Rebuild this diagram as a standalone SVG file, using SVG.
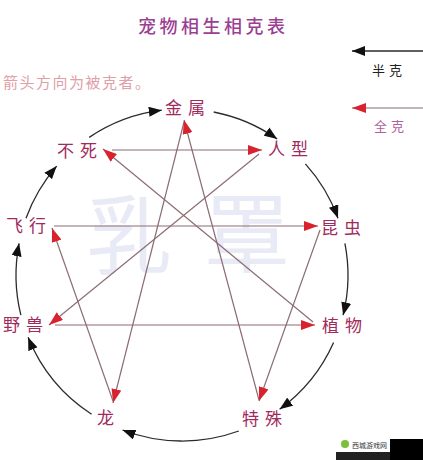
<svg xmlns="http://www.w3.org/2000/svg" width="423" height="460" viewBox="0 0 423 460">
<style>
.lbl{font-family:"Noto Sans CJK SC","Noto Sans",sans-serif;font-size:17px;fill:#a02a5c;letter-spacing:6px}
.arc{fill:none;stroke:#2b2b2b;stroke-width:1.3;marker-end:url(#bk)}
.rl{fill:none;stroke:#8b6d73;stroke-width:1.2;marker-end:url(#rd)}
.wm{font-family:"Noto Sans CJK SC",serif;font-size:86px;fill:#e8eaf6}
</style>
<defs>
<marker id="rd" markerUnits="userSpaceOnUse" viewBox="0 0 14 10" refX="14" refY="5" markerWidth="14" markerHeight="10" orient="auto"><path d="M0,0 L14,5 L0,10 z" fill="#d8222e"/></marker>
<marker id="bk" markerUnits="userSpaceOnUse" viewBox="0 0 13 10" refX="13" refY="5" markerWidth="13" markerHeight="10" orient="auto"><path d="M0,0 L13,5 L0,10 z" fill="#111"/></marker>
</defs>
<rect width="423" height="460" fill="#fff"/>
<g id="watermark">
<text class="wm" x="86" y="268">乳</text>
<text class="wm" x="204" y="266">罩</text>
</g>
<g id="title">
<text x="138" y="33" font-family="Noto Sans CJK SC,sans-serif" font-size="18" font-weight="500" letter-spacing="3.5" fill="#9b3f93">宠物相生相克表</text>
<text x="3" y="88" font-family="Noto Sans CJK SC,sans-serif" font-size="15" letter-spacing="1.5" fill="#e0a0a8">箭头方向为被克者。</text>
</g>
<g id="legend">
<line x1="423" y1="51" x2="352" y2="51" stroke="#2b2b2b" stroke-width="1.3" marker-end="url(#bk)"/>
<text x="372" y="75" font-family="Noto Sans CJK SC,sans-serif" font-size="13" letter-spacing="4" fill="#222">半克</text>
<line x1="423" y1="108" x2="352" y2="108" stroke="#8b6d73" stroke-width="1.2" marker-end="url(#rd)"/>
<text x="374" y="131" font-family="Noto Sans CJK SC,sans-serif" font-size="13" letter-spacing="4" fill="#b060a0">全克</text>
</g>
<g id="connectors">
<path class="arc" d="M89.2,137.4 A166,166 0 0 1 161.8,110.2"/>
<path class="arc" d="M213.7,112 A166,166 0 0 1 277.2,139"/>
<path class="arc" d="M305.4,163.9 A166,166 0 0 1 338,218.2"/>
<path class="arc" d="M344.9,243.3 A166,166 0 0 1 343.1,315.2"/>
<path class="arc" d="M333.6,342.5 A166,166 0 0 1 279.6,409.3"/>
<path class="arc" d="M238.8,431 A166,166 0 0 1 122.5,430"/>
<path class="arc" d="M91.6,414.2 A166,166 0 0 1 28.1,337.2"/>
<path class="arc" d="M20.9,315.2 A166,166 0 0 1 19.1,243.3"/>
<path class="arc" d="M26,218.2 A166,166 0 0 1 56.7,166.1"/>
<line class="rl" x1="112" y1="150" x2="262" y2="150"/>
<line class="rl" x1="54" y1="226" x2="318" y2="226"/>
<line class="rl" x1="55" y1="325" x2="315" y2="325"/>
<line class="rl" x1="184" y1="122" x2="113" y2="403"/>
<line class="rl" x1="259" y1="400" x2="184" y2="120"/>
<line class="rl" x1="320" y1="230" x2="259" y2="401"/>
<line class="rl" x1="113" y1="401" x2="52" y2="228"/>
<line class="rl" x1="313" y1="322" x2="103" y2="149"/>
<line class="rl" x1="259" y1="154" x2="49" y2="325"/>
</g>
<g id="n-jinshu"><text class="lbl" x="165" y="114">金属</text></g>
<g id="n-renxing"><text class="lbl" x="268" y="155">人型</text></g>
<g id="n-kunchong"><text class="lbl" x="321" y="234">昆虫</text></g>
<g id="n-zhiwu"><text class="lbl" x="322" y="332">植物</text></g>
<g id="n-teshu"><text class="lbl" x="242" y="425">特殊</text></g>
<g id="n-long"><text class="lbl" x="97" y="424">龙</text></g>
<g id="n-yeshou"><text class="lbl" x="3" y="331">野兽</text></g>
<g id="n-feixing"><text class="lbl" x="6" y="232">飞行</text></g>
<g id="n-busi"><text class="lbl" x="57" y="157">不死</text></g>
<g id="badge">
<rect x="390" y="439" width="33" height="21" fill="#000"/>
<rect x="336" y="452" width="54" height="8" fill="#222"/>
<rect x="336" y="438" width="54" height="14" fill="#fff"/>
<circle cx="345" cy="444" r="4" fill="#7cbf3a"/>
<text x="352" y="448" font-family="Noto Sans CJK SC,sans-serif" font-size="7" fill="#333">西城游戏网</text>
</g>
</svg>
